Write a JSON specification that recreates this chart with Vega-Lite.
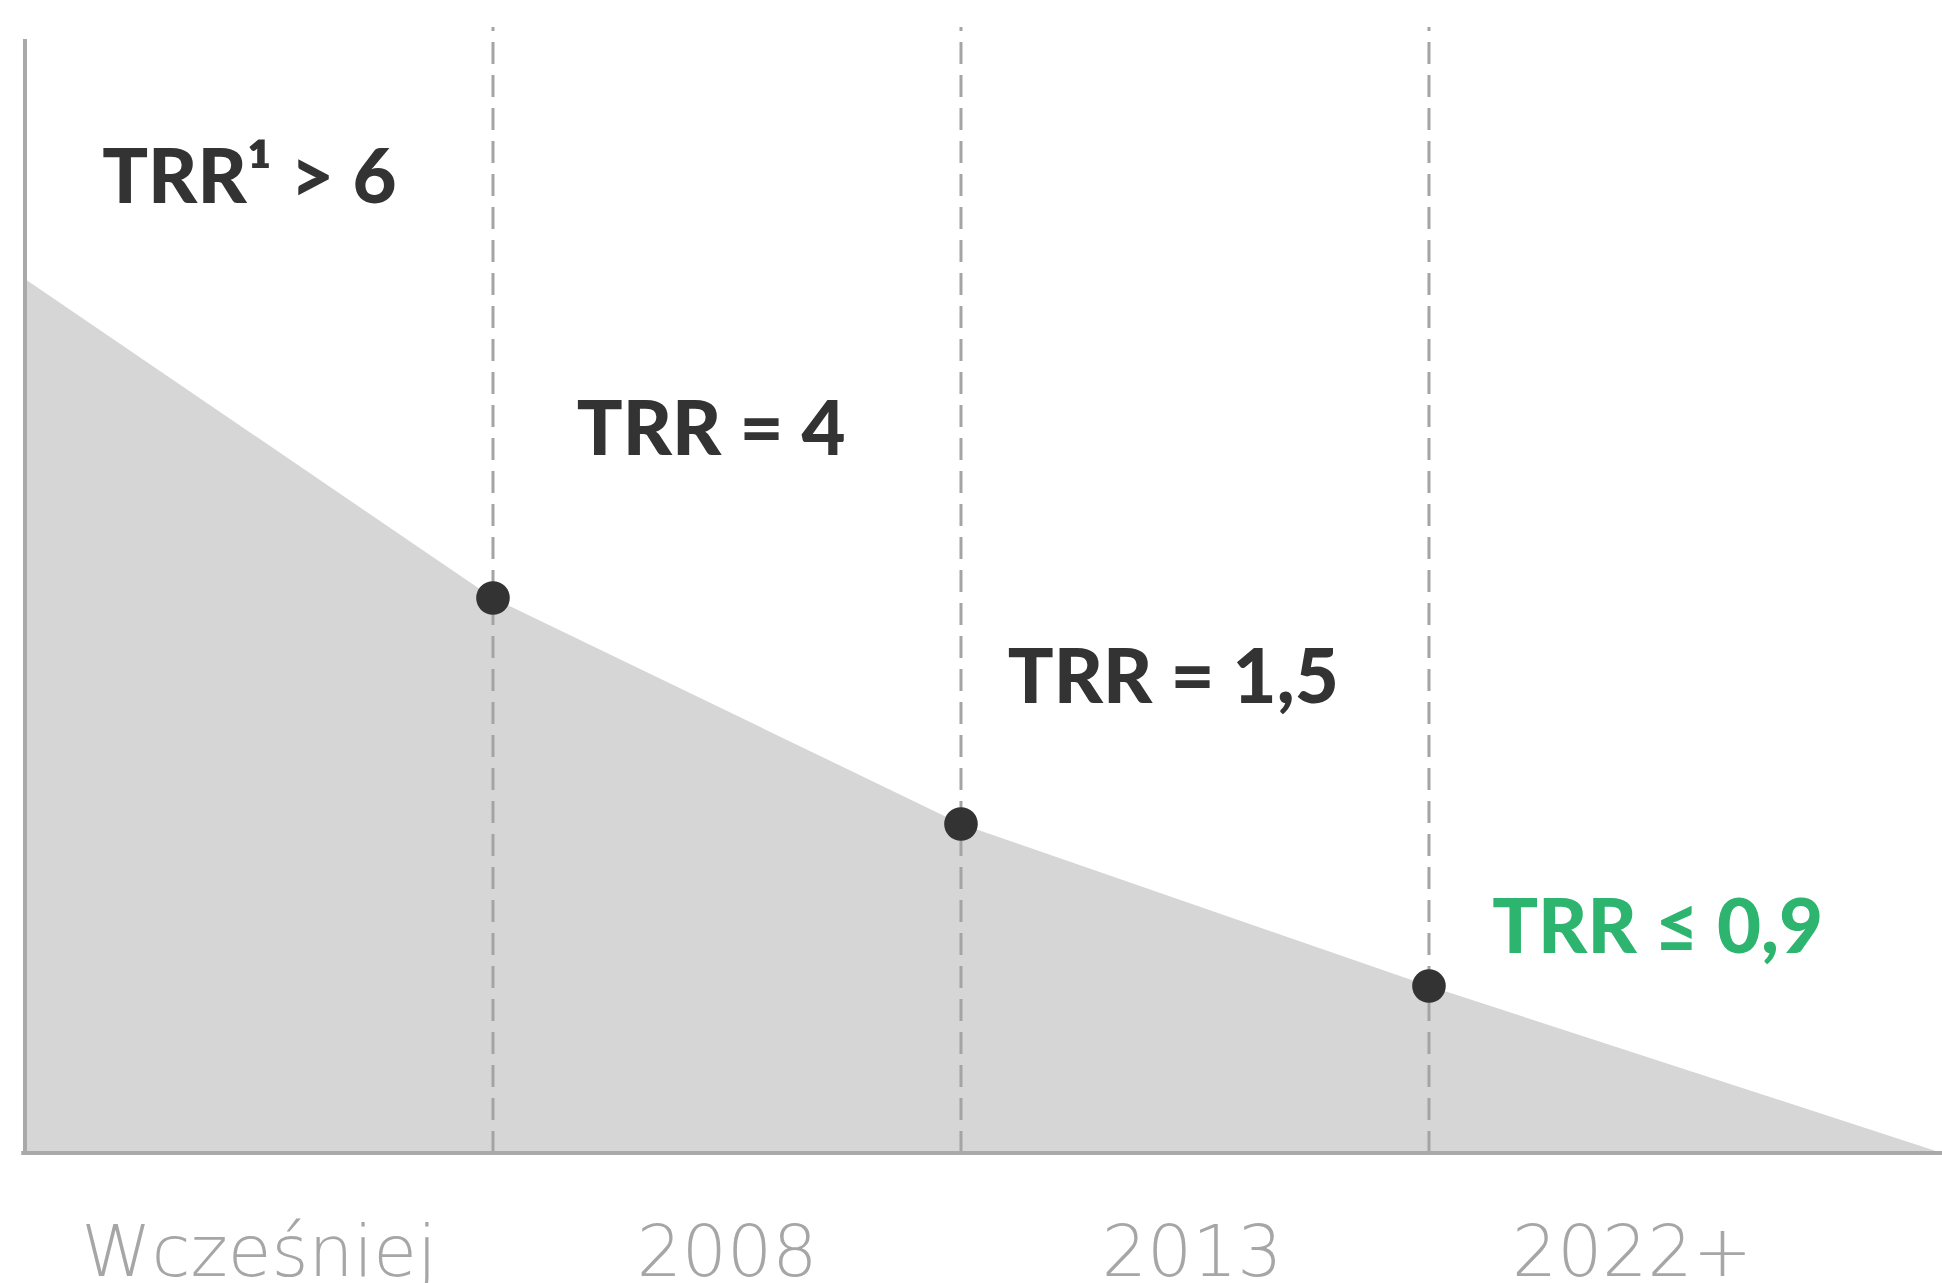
{
  "$schema": "https://vega.github.io/schema/vega-lite/v6.json",
  "width": 1942,
  "height": 1283,
  "padding": 0,
  "autosize": {"type": "none"},
  "background": "#ffffff",
  "config": {"view": {"stroke": null}},
  "datasets": {
    "curve": [
      {"x": 0, "y": 7.762},
      {"x": 1, "y": 4.929},
      {"x": 2, "y": 2.922},
      {"x": 3, "y": 1.483},
      {"x": 4.0962, "y": 0}
    ],
    "milestones": [
      {"x": 1, "y": 4.929},
      {"x": 2, "y": 2.922},
      {"x": 3, "y": 1.483}
    ],
    "bold": [
      {"label": "TRR¹ > 6", "x": 0.165, "y": 8.437, "group": "past"},
      {"label": "TRR = 4", "x": 1.179, "y": 6.199, "group": "past"},
      {"label": "TRR = 1,5", "x": 2.1, "y": 3.996, "group": "past"},
      {"label": "TRR ≤ 0,9", "x": 3.135, "y": 1.776, "group": "target"}
    ],
    "periods": [
      {"label": "Wcześniej", "x": 0.5},
      {"label": "2008", "x": 1.5},
      {"label": "2013", "x": 2.494},
      {"label": "2022+", "x": 3.434}
    ]
  },
  "layer": [
    {
      "data": {"name": "curve"},
      "mark": {"type": "area", "color": "#d6d6d6", "interpolate": "linear"},
      "encoding": {
        "x": {"field": "x", "type": "quantitative", "scale": {"domain": [-0.0534, 4.0962], "nice": false, "zero": false}, "axis": null},
        "y": {"field": "y", "type": "quantitative", "scale": {"domain": [-1.1545, 10.24], "nice": false, "zero": false}, "axis": null},
        "y2": {"datum": 0}
      }
    },
    {
      "data": {"name": "milestones"},
      "mark": {"type": "rule", "color": "#a4a4a6", "strokeWidth": 3, "strokeDash": [22, 11]},
      "encoding": {
        "x": {"field": "x", "type": "quantitative"},
        "y": {"datum": 0},
        "y2": {"datum": 10}
      }
    },
    {
      "data": {"values": [{"a": 0}]},
      "mark": {"type": "rule", "color": "#a9a9ab", "strokeWidth": 4},
      "encoding": {
        "x": {"datum": 0},
        "y": {"datum": 0},
        "y2": {"datum": 9.893}
      }
    },
    {
      "data": {"values": [{"a": 0}]},
      "mark": {"type": "rule", "color": "#a9a9ab", "strokeWidth": 4},
      "encoding": {
        "x": {"datum": -0.008},
        "x2": {"datum": 4.0962},
        "y": {"datum": 0}
      }
    },
    {
      "data": {"name": "milestones"},
      "mark": {"type": "circle", "color": "#333333", "opacity": 1, "size": 1130},
      "encoding": {
        "x": {"field": "x", "type": "quantitative"},
        "y": {"field": "y", "type": "quantitative"}
      }
    },
    {
      "data": {"name": "bold"},
      "mark": {"type": "text", "align": "left", "baseline": "alphabetic", "font": "Lato", "fontWeight": 900, "fontSize": 76},
      "encoding": {
        "x": {"field": "x", "type": "quantitative"},
        "y": {"field": "y", "type": "quantitative"},
        "text": {"field": "label"},
        "color": {"field": "group", "type": "nominal", "scale": {"domain": ["past", "target"], "range": ["#333333", "#2db46e"]}, "legend": null}
      }
    },
    {
      "data": {"name": "periods"},
      "mark": {"type": "text", "align": "center", "baseline": "alphabetic", "font": "DejaVu Sans", "fontWeight": 200, "fontSize": 71, "color": "#a6a6a8"},
      "encoding": {
        "x": {"field": "x", "type": "quantitative"},
        "y": {"datum": -1.092},
        "text": {"field": "label"}
      }
    }
  ]
}
